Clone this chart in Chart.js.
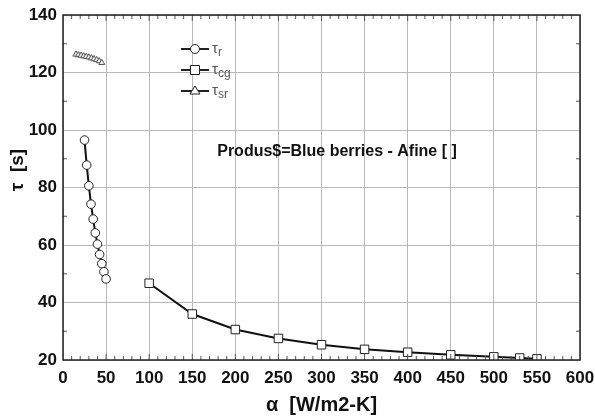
<!DOCTYPE html>
<html>
<head>
<meta charset="utf-8">
<script src="https://cdn.jsdelivr.net/npm/chart.js@4.4.0/dist/chart.umd.min.js"></script>
<style>
  html, body { margin: 0; padding: 0; background: #fff; }
  #wrap { width: 595px; height: 417px; position: relative; }
</style>
</head>
<body>
<div id="wrap"><canvas id="myChart"></canvas></div>
<script>
// tau_r  (circles)
var rX = [25, 27.5, 30, 32.5, 35, 37.5, 40, 42.5, 45, 47.5, 50];
var rY = [96.5, 87.8, 80.6, 74.2, 69.0, 64.2, 60.3, 56.7, 53.5, 50.7, 48.2];

// tau_cg  (squares)
var cgX = [100, 150, 200, 250, 300, 350, 400, 450, 500, 530, 550];
var cgY = [46.7, 36.0, 30.6, 27.5, 25.3, 23.7, 22.7, 21.8, 21.1, 20.7, 20.4];

// tau_sr  (triangles)
var srX = [15, 18, 21, 24, 27, 30, 33, 36, 39, 42, 45];
var srY = [126.3, 126.1, 125.9, 125.7, 125.5, 125.3, 125.0, 124.7, 124.4, 124.0, 123.4];

var xTicks = [0, 50, 100, 150, 200, 250, 300, 350, 400, 450, 500, 550, 600];
var yTicks = [20, 40, 60, 80, 100, 120, 140];

var legendNames = [['τ', 'r'], ['τ', 'cg'], ['τ', 'sr']];
var noteText = 'Produs$=Blue berries - Afine [ ]';
var yTitle = 'τ  [s]';

function pts(xs, ys) {
    return xs.map(function (x, i) { return { x: x, y: ys[i] }; });
}

// minor ticks, frame, legend, note and y title
var extras = {
    id: 'extras',
    afterDraw: function (chart) {
        var c = chart.ctx, a = chart.chartArea;
        var xs = chart.scales.x, ys = chart.scales.y;
        c.save();
        c.strokeStyle = '#555';
        c.lineWidth = 1;
        c.beginPath();
        for (var v = 10; v < 600; v += 10) {
            var px = xs.getPixelForValue(v);
            var len = v % 50 === 0 ? 6 : 4;
            c.moveTo(px, a.bottom); c.lineTo(px, a.bottom - len);
            c.moveTo(px, a.top); c.lineTo(px, a.top + len);
        }
        for (var w = 30; w < 140; w += 20) {
            var py = ys.getPixelForValue(w);
            c.moveTo(a.left, py); c.lineTo(a.left + 4, py);
            c.moveTo(a.right, py); c.lineTo(a.right - 4, py);
        }
        c.stroke();

        // frame
        c.strokeStyle = '#222';
        c.lineWidth = 1.5;
        c.strokeRect(a.left, a.top, a.right - a.left, a.bottom - a.top);

        // legend
        var lx = a.left + 118, ly = a.top + 34;
        chart.data.datasets.forEach(function (ds, i) {
            var y = ly + i * 21;
            c.strokeStyle = '#222';
            c.lineWidth = 2;
            c.beginPath();
            c.moveTo(lx, y); c.lineTo(lx + 28, y);
            c.stroke();
            c.fillStyle = '#fff';
            c.strokeStyle = '#222';
            c.lineWidth = 1;
            c.beginPath();
            if (ds.pointStyle === 'circle') c.arc(lx + 14, y, 4.5, 0, Math.PI * 2);
            else if (ds.pointStyle === 'rect') c.rect(lx + 9.5, y - 4.5, 9, 9);
            else { c.moveTo(lx + 14, y - 5); c.lineTo(lx + 19, y + 3); c.lineTo(lx + 9, y + 3); c.closePath(); }
            c.fill(); c.stroke();
            c.fillStyle = '#555';
            c.textBaseline = 'middle';
            c.font = '15px "Liberation Sans", Arial';
            c.fillText(legendNames[i][0], lx + 31, y);
            var tw = c.measureText(legendNames[i][0]).width;
            c.font = '12px "Liberation Sans", Arial';
            c.fillText(legendNames[i][1], lx + 31 + tw, y + 4);
        });

        // note
        c.fillStyle = '#111';
        c.font = 'bold 16px "Liberation Sans", Arial';
        c.textAlign = 'center';
        c.textBaseline = 'middle';
        c.fillText(noteText, xs.getPixelForValue(318), ys.getPixelForValue(92.5));

        // y title
        c.translate(18, 170);
        c.rotate(-Math.PI / 2);
        c.font = 'bold 19px "Liberation Sans", Arial';
        c.fillText(yTitle, 0, 0);
        c.restore();
    }
};

var ctx = document.getElementById('myChart').getContext('2d');
var myChart = new Chart(ctx, {
    type: 'line',
    data: {
        datasets: [
            {
                label: 'tr',
                data: pts(rX, rY),
                borderColor: '#111',
                borderWidth: 2,
                pointStyle: 'circle',
                pointRadius: 4.3,
                pointBorderWidth: 1,
                pointBackgroundColor: '#fff',
                pointBorderColor: '#222'
            },
            {
                label: 'tcg',
                data: pts(cgX, cgY),
                borderColor: '#111',
                borderWidth: 2,
                pointStyle: 'rect',
                pointRadius: 6,
                pointBorderWidth: 1,
                pointBackgroundColor: '#fff',
                pointBorderColor: '#222'
            },
            {
                label: 'tsr',
                data: pts(srX, srY),
                borderColor: '#777',
                borderWidth: 1,
                pointStyle: 'triangle',
                pointRadius: 3.5,
                pointBorderWidth: 1,
                pointBackgroundColor: '#eee',
                pointBorderColor: '#555'
            }
        ]
    },
    options: {
        responsive: true,
        maintainAspectRatio: false,
        animation: false,
        layout: { padding: { left: 0, right: 15, top: 15, bottom: 0 } },
        plugins: {
            legend: { display: false },
            tooltip: { enabled: false }
        },
        scales: {
            x: {
                type: 'linear',
                min: 0, max: 600,
                afterBuildTicks: function (s) { s.ticks = xTicks.map(function (v) { return { value: v }; }); },
                afterFit: function (s) { s.height = 57; s.paddingLeft = 0; s.paddingRight = 0; },
                grid: { color: '#b8b8b8', lineWidth: 1, drawTicks: false },
                border: { display: false },
                ticks: {
                    color: '#111',
                    padding: 8,
                    maxRotation: 0,
                    font: { family: '"Liberation Sans", Arial', size: 17, weight: 'bold' }
                },
                title: {
                    display: true,
                    text: 'α  [W/m2-K]',
                    color: '#111',
                    padding: { top: 0, bottom: 0 },
                    font: { family: '"Liberation Sans", Arial', size: 20, weight: 'bold' }
                }
            },
            y: {
                type: 'linear',
                min: 20, max: 140,
                afterBuildTicks: function (s) { s.ticks = yTicks.map(function (v) { return { value: v }; }); },
                afterFit: function (s) { s.width = 63; s.paddingTop = 0; s.paddingBottom = 0; },
                grid: { color: '#b8b8b8', lineWidth: 1, drawTicks: false },
                border: { display: false },
                ticks: {
                    color: '#111',
                    padding: 6,
                    font: { family: '"Liberation Sans", Arial', size: 17, weight: 'bold' }
                }
            }
        }
    },
    plugins: [extras]
});
</script>
</body>
</html>
